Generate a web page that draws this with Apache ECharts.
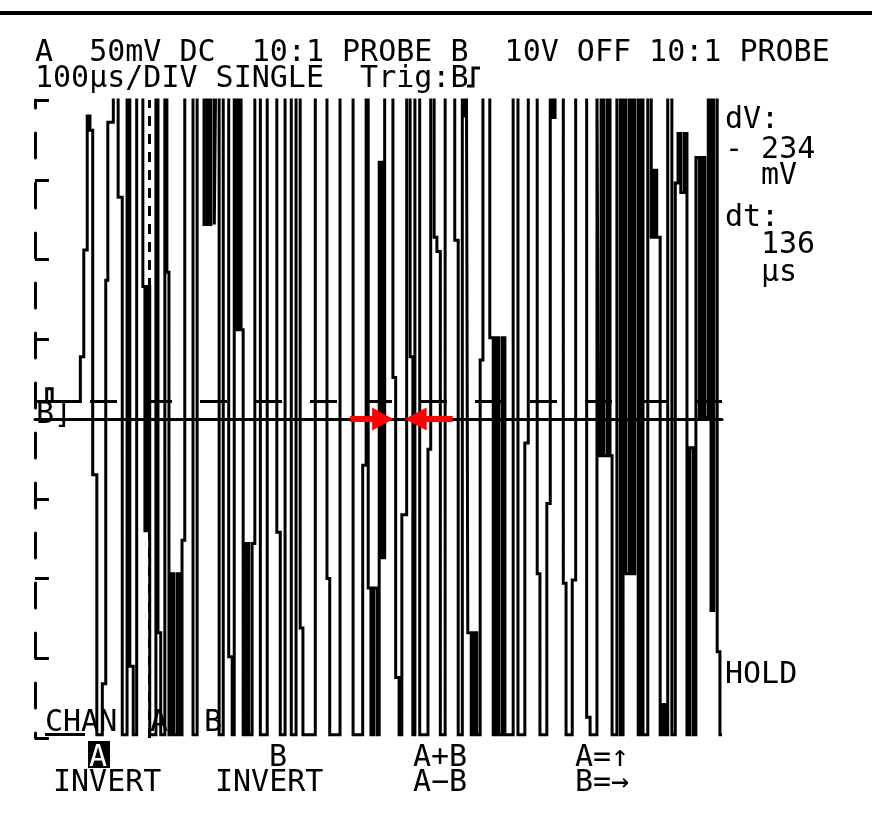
<!DOCTYPE html>
<html>
<head>
<meta charset="utf-8">
<style>
html,body{margin:0;padding:0;background:#fff;}
#chart{width:872px;height:816px;}
</style>
<script src="https://cdn.jsdelivr.net/npm/echarts@6/dist/echarts.min.js"></script>
</head>
<body>
<div id="chart"></div>
<script>
// ---- data (time in microseconds, channel A voltage in mV) ----
const timeUs = [0,17,25,66,71,76,80,84,90,98,103,106,114,121,127,
134,138,143,148,157,160,164,167,
176,179,183,189,192,195,199,202,207,210,214,218,
230,236,246,249,253,256,261,263,268,
274,282,287,290,294,297,300,303,307,311,316,320,
328,338,352,357,364,373,380,386,390,
408,425,429,444,463,477,482,485,489,493,498,501,505,509,
521,525,530,534,541,546,550,
553,560,572,576,581,585,590,
597,611,616,622,626,628,630,635,639,643,648,652,
662,667,671,675,680,684,
696,703,713,718,731,735,745,750,754,757,769,773,782,787,803,808,818,
820,824,828,833,837,840,847,852,856,860,865,869,873,878,882,885,892,897,901,905,910,914,918,921,927,932,936,940,945,949,953,958,962,967,971,975,980,984,988,993,997,1000];
const voltMv = [11,19,11,39,106,190,181,-35,-198,-166,87,186,215,139,-198,
215,-155,-198,215,83,-70,83,-198,
215,-134,-198,215,92,-198,-97,-198,-97,-198,-76,215,
-198,215,122,215,122,215,122,215,-198,
215,-149,-198,215,56,215,56,-198,-78,-198,-78,215,
-198,215,-71,-198,215,-198,215,-131,-198,
215,-100,-198,215,-198,-29,215,-106,-198,-106,-198,161,-87,215,
26,-162,-198,-60,215,39,-198,
215,-198,-19,215,114,105,-198,
215,112,-198,215,189,215,-134,-198,-134,-198,37,215,
51,-198,51,-198,51,-198,
215,-198,-15,215,-97,-198,-53,215,189,215,-103,-198,-101,215,-187,-198,215,
-23,215,-23,215,-23,-198,215,-198,215,-97,215,-97,215,-198,215,-198,215,114,156,114,-198,-179,-198,215,-198,148,179,142,179,-198,-18,-198,164,1,164,1,215,-120,215,-146,-198,-198];

const yTicksMv = [-200, 200, 50];          // min, max, step (50 mV/DIV)
const timeSpanUs = [0, 1000];              // 10 DIV x 100 us
const triggerLevelMv = 0;
const refLevelMv = 11;
const cursorUs = 167;
const arrowRightAt = [490, 0];
const arrowLeftAt = [573, 0];

const headerLines = ['A  50mV DC  10:1 PROBE B  10V OFF 10:1 PROBE', '100\u00b5s/DIV SINGLE  Trig:B'];
const readout = ['dV:', '- 234', 'mV', 'dt:', '136', '\u00b5s'];
const softKeysTop = ['A', 'B', 'A+B', 'A=\u2191'];
const softKeysBottom = ['INVERT', 'INVERT', 'A\u2212B', 'B=\u2192'];

const chart = echarts.init(document.getElementById('chart'), null, {renderer: 'canvas'});
const FONT = '30px "DejaVu Sans Mono"';
function txt(t, x, y, fill) {
  return {type: 'text', x: x, y: y, silent: true, z: 10,
    style: {text: t, font: FONT, fill: fill || '#000', textAlign: 'left', textVerticalAlign: 'top'}};
}
const graphics = [
  {type: 'rect', shape: {x: 0, y: 11, width: 872, height: 4}, style: {fill: '#000'}, silent: true},
  txt(headerLines[0], 35, 38),
  txt(headerLines[1], 35, 64),
  // rising-edge trigger symbol after "Trig:B"
  {type: 'polyline', shape: {points: [[467, 86], [473, 86], [473, 68], [480, 68]]},
   style: {stroke: '#000', lineWidth: 3, fill: null}, silent: true},
  txt(readout[0], 725, 105),
  txt(readout[1], 725, 135),
  txt(readout[2], 761, 161),
  txt(readout[3], 725, 203),
  txt(readout[4], 761, 230),
  txt(readout[5], 761, 258),
  txt('HOLD', 725, 660),
  txt('B\u230b', 36, 400),
  txt('CHAN', 45, 708),
  {type: 'rect', shape: {x: 45, y: 733, width: 40, height: 3}, style: {fill: '#000'}, silent: true},
  txt('A', 150, 708),
  txt('B', 204, 708),
  {type: 'rect', shape: {x: 88, y: 741, width: 22, height: 27}, style: {fill: '#000'}, silent: true, z: 9},
  txt(softKeysTop[0], 89, 743, '#fff'),
  txt(softKeysTop[1], 269, 743),
  txt(softKeysTop[2], 413, 743),
  txt(softKeysTop[3], 575, 743),
  txt(softKeysBottom[0], 53, 768),
  txt(softKeysBottom[1], 215, 768),
  txt(softKeysBottom[2], 413, 768),
  txt(softKeysBottom[3], 575, 768)
];

const rightArrow = 'path://M0,8.5L22,8.5L22,0L43,11.5L22,23L22,14.5L0,14.5Z';
const leftArrow = 'path://M48,8.5L22,8.5L22,0L0,11.5L22,23L22,14.5L48,14.5Z';

chart.setOption({
  animation: false,
  backgroundColor: '#fff',
  grid: {left: 35, top: 100, width: 687, height: 638, containLabel: false},
  xAxis: {
    type: 'value', min: timeSpanUs[0], max: timeSpanUs[1], position: 'top',
    axisLine: {show: true, lineStyle: {color: '#000', width: 3}},
    axisTick: {show: false}, axisLabel: {show: false}, splitLine: {show: false}
  },
  yAxis: {
    type: 'value', min: yTicksMv[0], max: yTicksMv[1], interval: yTicksMv[2],
    axisLine: {show: true, lineStyle: {color: '#000', width: 3, type: [25, 25], dashOffset: 20}},
    axisTick: {show: true, inside: true, length: 14, lineStyle: {color: '#000', width: 3}},
    axisLabel: {show: false}, splitLine: {show: false}
  },
  graphic: graphics,
  series: [{
    type: 'line',
    step: 'end',
    data: timeUs.map((t, i) => [t, voltMv[i]]),
    showSymbol: false,
    symbol: 'none',
    clip: true,
    lineStyle: {color: '#000', width: 3, cap: 'butt', join: 'miter'},
    markLine: {
      silent: true, symbol: ['none', 'none'], label: {show: false},
      data: [
        {yAxis: triggerLevelMv, lineStyle: {color: '#000', width: 3, type: 'solid'}},
        {yAxis: refLevelMv, lineStyle: {color: '#000', width: 3, type: [27, 28]}},
        {xAxis: cursorUs, lineStyle: {color: '#000', width: 3, type: [10, 8]}}
      ]
    },
    markPoint: {
      silent: true,
      label: {show: false},
      data: [
        {coord: arrowRightAt, symbol: rightArrow, symbolSize: [43, 23], itemStyle: {color: '#ff0000'}},
        {coord: arrowLeftAt, symbol: leftArrow, symbolSize: [48, 23], itemStyle: {color: '#ff0000'}}
      ]
    }
  }]
});
</script>
</body>
</html>
